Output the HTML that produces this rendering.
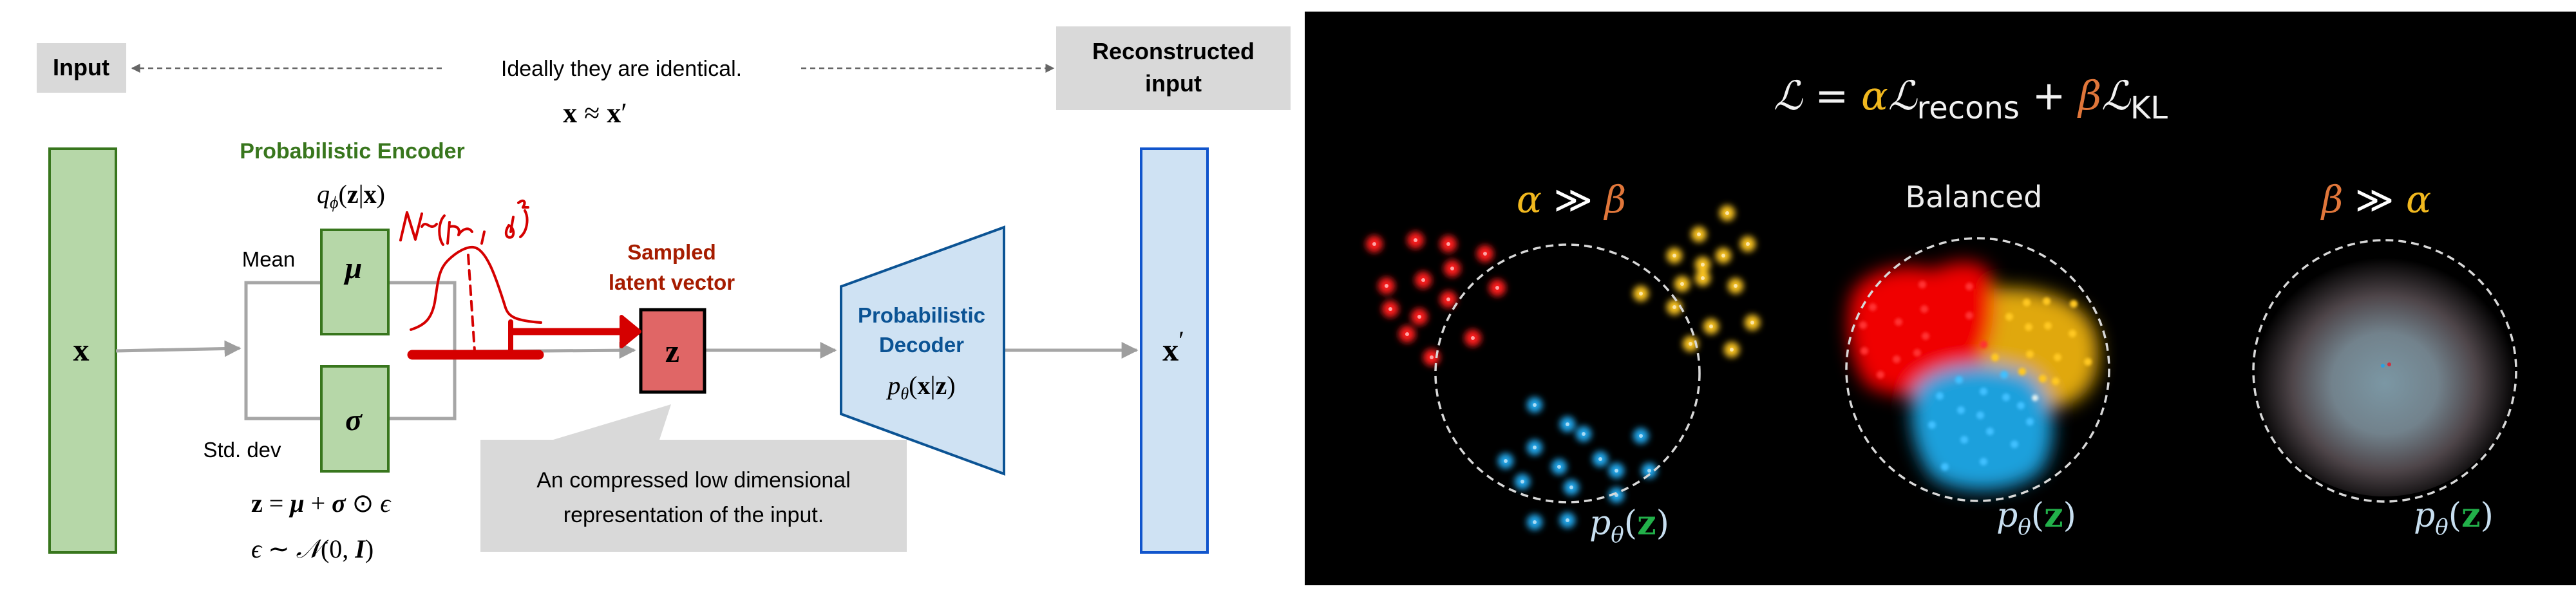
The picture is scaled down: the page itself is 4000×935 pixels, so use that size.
<!DOCTYPE html>
<html><head><meta charset="utf-8"><style>
html,body{margin:0;padding:0;background:#fff}
svg{display:block}
</style></head><body>
<svg width="4000" height="935" viewBox="0 0 4000 935" xmlns="http://www.w3.org/2000/svg">
<defs>
<marker id="gb" viewBox="0 0 10 10" markerWidth="26" markerHeight="26" refX="9" refY="5" orient="auto" markerUnits="userSpaceOnUse"><path d="M0,0 L10,5 L0,10z" fill="#9e9e9e"/></marker>
<marker id="da" viewBox="0 0 10 10" markerWidth="14" markerHeight="14" refX="9" refY="5" orient="auto" markerUnits="userSpaceOnUse"><path d="M0,0 L10,5 L0,10z" fill="#666"/></marker>
<filter id="gl" x="-50%" y="-50%" width="200%" height="200%"><feGaussianBlur stdDeviation="5"/></filter>
<filter id="bb" x="-50%" y="-50%" width="200%" height="200%"><feGaussianBlur stdDeviation="14"/></filter>
<filter id="sd" x="-50%" y="-50%" width="200%" height="200%"><feGaussianBlur stdDeviation="2"/></filter>
<radialGradient id="rg" cx="0.5" cy="0.55" r="0.5"><stop offset="0" stop-color="#7b97a4"/><stop offset="0.4" stop-color="#72828c"/><stop offset="0.7" stop-color="#4e4549"/><stop offset="1" stop-color="#000"/></radialGradient>
</defs>
<rect width="4000" height="935" fill="#fff"/>
<g font-family="Liberation Sans, sans-serif">
<rect x="57" y="67" width="139" height="77" fill="#d9d9d9"/>
<text x="126" y="117" font-size="36" font-weight="bold" text-anchor="middle" fill="#000">Input</text>
<line x1="686" y1="106" x2="205" y2="106" stroke="#666" stroke-width="2.5" stroke-dasharray="8,6" marker-end="url(#da)"/>
<text x="965" y="118" font-size="34" text-anchor="middle">Ideally they are identical.</text>
<line x1="1244" y1="106" x2="1636" y2="106" stroke="#666" stroke-width="2.5" stroke-dasharray="8,6" marker-end="url(#da)"/>
<rect x="1640" y="41" width="364" height="130" fill="#d9d9d9"/>
<text x="1822" y="92" font-size="36" font-weight="bold" text-anchor="middle">Reconstructed</text>
<text x="1822" y="142" font-size="36" font-weight="bold" text-anchor="middle">input</text>
<text x="924" y="190" font-size="44" font-family="Liberation Serif, serif" text-anchor="middle"><tspan font-weight="bold">x</tspan> ≈ <tspan font-weight="bold">x</tspan>′</text>

<rect x="77" y="231" width="103" height="627" fill="#b6d7a8" stroke="#38761d" stroke-width="4"/>
<text x="126" y="560" font-size="50" font-weight="bold" font-family="Liberation Serif, serif" text-anchor="middle">x</text>

<text x="547" y="246" font-size="34" font-weight="bold" fill="#38761d" text-anchor="middle">Probabilistic Encoder</text>
<text x="545" y="315" font-size="40" font-family="Liberation Serif, serif" text-anchor="middle"><tspan font-style="italic">q</tspan><tspan font-style="italic" font-size="26" dy="8">ϕ</tspan><tspan dy="-8">(<tspan font-weight="bold">z</tspan>|<tspan font-weight="bold">x</tspan>)</tspan></text>
<text x="417" y="414" font-size="33" text-anchor="middle">Mean</text>
<text x="376" y="710" font-size="33" text-anchor="middle">Std. dev</text>

<g stroke="#a6a6a6" stroke-width="5" fill="none">
<polyline points="498,439 382,439 382,650 498,650"/>
<polyline points="604,439 706,439 706,650 604,650"/>
<line x1="180" y1="545" x2="372" y2="541" marker-end="url(#gb)"/>
<line x1="706" y1="546" x2="985" y2="544" marker-end="url(#gb)"/>
<line x1="1095" y1="544" x2="1297" y2="544" marker-end="url(#gb)"/>
<line x1="1560" y1="544" x2="1765" y2="544" marker-end="url(#gb)"/>
</g>
<rect x="499" y="357" width="104" height="162" fill="#b6d7a8" stroke="#38761d" stroke-width="4"/>
<text x="549" y="432" font-size="48" font-weight="bold" font-style="italic" font-family="Liberation Serif, serif" text-anchor="middle">μ</text>
<rect x="499" y="569" width="104" height="163" fill="#b6d7a8" stroke="#38761d" stroke-width="4"/>
<text x="549" y="668" font-size="48" font-weight="bold" font-style="italic" font-family="Liberation Serif, serif" text-anchor="middle">σ</text>

<text x="390" y="795" font-size="40" font-family="Liberation Serif, serif"><tspan font-weight="bold">z</tspan> = <tspan font-weight="bold" font-style="italic">μ</tspan> + <tspan font-weight="bold" font-style="italic">σ</tspan> ⊙ <tspan font-style="italic">ϵ</tspan></text>
<text x="390" y="866" font-size="40" font-family="Liberation Serif, serif"><tspan font-style="italic">ϵ</tspan> ∼ <tspan font-style="italic">𝒩</tspan>(0, <tspan font-weight="bold" font-style="italic">I</tspan>)</text>

<text x="1043" y="403" font-size="33" font-weight="bold" fill="#a61c00" text-anchor="middle">Sampled</text>
<text x="1043" y="450" font-size="33" font-weight="bold" fill="#a61c00" text-anchor="middle">latent vector</text>

<rect x="995" y="481" width="99" height="128" fill="#e06666" stroke="#000" stroke-width="5"/>
<text x="1044" y="562" font-size="50" font-weight="bold" font-family="Liberation Serif, serif" text-anchor="middle">z</text>

<g stroke="#d50000" fill="none" stroke-linecap="round" stroke-linejoin="round">
<path d="M638,512 C660,505 670,495 675,470 C680,440 680,420 695,405 C710,390 725,383 735,384 C755,386 770,430 785,478 C790,492 800,498 840,501" stroke-width="4"/>
<path d="M727,396 L737,545" stroke-width="4" stroke-dasharray="14,10"/>
<line x1="640" y1="551" x2="837" y2="551" stroke-width="15"/>
<line x1="793" y1="500" x2="793" y2="548" stroke-width="8"/>
<line x1="797" y1="515" x2="970" y2="515" stroke-width="11"/>
<path d="M965,492 L993,515 L965,538 z" fill="#d50000" stroke-width="6"/>
<path d="M622,373 L632,330 L645,372 L655,332 M655,352 C662,340 668,360 678,348 M690,335 C680,345 680,370 688,380 M698,345 L695,378 M698,352 C710,350 715,355 712,365 C718,355 728,352 733,360 M752,360 L748,378 M790,350 C783,360 785,372 795,368 C800,362 796,352 790,350 M797,337 L793,360 M805,315 C812,309 818,312 812,322 L820,322 M815,327 C822,340 818,360 808,368" stroke-width="4"/>
</g>

<path d="M859,683 L1042,628 L1024,683 z" fill="#d9d9d9"/>
<rect x="746" y="683" width="662" height="174" fill="#d9d9d9"/>
<text x="1077" y="757" font-size="34" text-anchor="middle">An compressed low dimensional</text>
<text x="1077" y="811" font-size="34" text-anchor="middle">representation of the input.</text>

<path d="M1306,445 L1559,353 L1559,736 L1306,643 z" fill="#cfe2f3" stroke="#0b5394" stroke-width="4"/>
<text x="1431" y="501" font-size="33" font-weight="bold" fill="#0b5394" text-anchor="middle">Probabilistic</text>
<text x="1431" y="547" font-size="33" font-weight="bold" fill="#0b5394" text-anchor="middle">Decoder</text>
<text x="1431" y="612" font-size="40" font-family="Liberation Serif, serif" text-anchor="middle"><tspan font-style="italic">p</tspan><tspan font-style="italic" font-size="26" dy="8">θ</tspan><tspan dy="-8">(<tspan font-weight="bold">x</tspan>|<tspan font-weight="bold">z</tspan>)</tspan></text>

<rect x="1772" y="231" width="103" height="627" fill="#cfe2f3" stroke="#1155cc" stroke-width="4"/>
<text x="1822" y="560" font-size="50" font-weight="bold" font-family="Liberation Serif, serif" text-anchor="middle">x<tspan font-weight="normal" dy="-18" font-size="40">′</tspan></text>
</g>

<rect x="2026" y="18" width="1974" height="891" fill="#000"/>
<g font-family="DejaVu Sans, sans-serif">
<text x="3060" y="170" font-size="62" fill="#f2f2f2" text-anchor="middle"><tspan font-family="DejaVu Serif, serif" font-style="italic">ℒ</tspan> = <tspan fill="#f1b81e" font-style="italic" font-family="DejaVu Serif, serif">α</tspan><tspan font-style="italic" font-family="DejaVu Serif, serif">ℒ</tspan><tspan font-size="48" dy="14">recons</tspan><tspan dy="-14"> + </tspan><tspan fill="#e0763a" font-style="italic" font-family="DejaVu Serif, serif">β</tspan><tspan font-style="italic" font-family="DejaVu Serif, serif">ℒ</tspan><tspan font-size="48" dy="14">KL</tspan></text>
<text x="2440" y="330" font-size="58" text-anchor="middle" font-family="DejaVu Serif, serif" font-style="italic"><tspan fill="#f1b81e">α</tspan><tspan fill="#fff" font-style="normal"> ≫ </tspan><tspan fill="#e0763a">β</tspan></text>
<text x="3065" y="322" font-size="46" fill="#eee" text-anchor="middle">Balanced</text>
<text x="3690" y="330" font-size="58" text-anchor="middle" font-family="DejaVu Serif, serif" font-style="italic"><tspan fill="#e0763a">β</tspan><tspan fill="#fff" font-style="normal"> ≫ </tspan><tspan fill="#f1b81e">α</tspan></text>

<ellipse cx="3703" cy="576" rx="205" ry="195" fill="url(#rg)"/>
<circle cx="3700" cy="568" r="3" fill="#2aa0e0"/><circle cx="3710" cy="566" r="3" fill="#d03040"/>

<g filter="url(#bb)">
<path d="M3085,450 C3150,440 3255,460 3258,540 C3262,610 3220,640 3150,635 L3070,560z" fill="#e0a810"/>
<path d="M2875,460 C2890,420 2960,405 3000,420 C3040,400 3090,400 3095,440 C3100,500 3090,560 3040,600 C3000,620 2950,620 2900,600 C2870,560 2865,500 2875,460z" fill="#f00000"/>
<path d="M2975,600 C3010,560 3090,560 3150,580 C3190,610 3200,680 3170,730 C3130,770 3040,770 3000,740 C2970,700 2960,640 2975,600z" fill="#1fa0dc"/>
</g>
<g fill="#ff3030" filter="url(#sd)">
<circle cx="2985" cy="442" r="6"/><circle cx="3058" cy="445" r="6"/><circle cx="2908" cy="477" r="6"/><circle cx="2948" cy="500" r="6"/><circle cx="2988" cy="480" r="6"/><circle cx="3058" cy="490" r="6"/><circle cx="2990" cy="522" r="6"/><circle cx="2893" cy="505" r="6"/><circle cx="2895" cy="545" r="6"/><circle cx="2945" cy="558" r="6"/><circle cx="2977" cy="548" r="6"/><circle cx="2920" cy="582" r="6"/><circle cx="3080" cy="535" r="6"/>
</g>
<g fill="#ffc820" filter="url(#sd)">
<circle cx="3120" cy="492" r="6"/><circle cx="3147" cy="470" r="6"/><circle cx="3178" cy="468" r="6"/><circle cx="3220" cy="472" r="6"/><circle cx="3150" cy="508" r="6"/><circle cx="3180" cy="506" r="6"/><circle cx="3218" cy="518" r="6"/><circle cx="3152" cy="550" r="6"/><circle cx="3195" cy="555" r="6"/><circle cx="3242" cy="562" r="6"/><circle cx="3172" cy="588" r="6"/><circle cx="3192" cy="592" r="6"/><circle cx="3098" cy="555" r="6"/><circle cx="3140" cy="577" r="6"/>
</g>
<g fill="#40c0ff" filter="url(#sd)">
<circle cx="3042" cy="590" r="6"/><circle cx="3112" cy="582" r="6"/><circle cx="3012" cy="615" r="6"/><circle cx="3080" cy="608" r="6"/><circle cx="3115" cy="617" r="6"/><circle cx="3138" cy="630" r="6"/><circle cx="3045" cy="637" r="6"/><circle cx="3075" cy="645" r="6"/><circle cx="3000" cy="660" r="6"/><circle cx="3090" cy="670" r="6"/><circle cx="3152" cy="655" r="6"/><circle cx="3050" cy="683" r="6"/><circle cx="3128" cy="690" r="6"/><circle cx="3020" cy="725" r="6"/><circle cx="3080" cy="717" r="6"/><circle cx="3160" cy="618" r="5" fill="#e0f0f0"/>
</g>

<g>
<g fill="#ff1a1a" filter="url(#gl)">
<circle cx="2134" cy="379" r="13"/><circle cx="2198" cy="373" r="13"/><circle cx="2249" cy="379" r="13"/><circle cx="2306" cy="394" r="13"/><circle cx="2153" cy="444" r="13"/><circle cx="2210" cy="435" r="13"/><circle cx="2255" cy="417" r="13"/><circle cx="2325" cy="447" r="13"/><circle cx="2159" cy="480" r="13"/><circle cx="2204" cy="492" r="13"/><circle cx="2249" cy="465" r="13"/><circle cx="2185" cy="519" r="13"/><circle cx="2287" cy="525" r="13"/><circle cx="2223" cy="555" r="13"/>
</g>
<g fill="#ffc820" filter="url(#gl)">
<circle cx="2682" cy="331" r="12"/><circle cx="2638" cy="364" r="12"/><circle cx="2714" cy="379" r="12"/><circle cx="2600" cy="397" r="12"/><circle cx="2676" cy="397" r="12"/><circle cx="2644" cy="411" r="12"/><circle cx="2612" cy="441" r="12"/><circle cx="2644" cy="432" r="12"/><circle cx="2695" cy="444" r="12"/><circle cx="2548" cy="456" r="12"/><circle cx="2600" cy="477" r="12"/><circle cx="2657" cy="507" r="12"/><circle cx="2721" cy="501" r="12"/><circle cx="2625" cy="534" r="12"/><circle cx="2689" cy="543" r="12"/>
</g>
<g fill="#22aaf0" filter="url(#gl)">
<circle cx="2383" cy="629" r="12"/><circle cx="2434" cy="659" r="12"/><circle cx="2459" cy="674" r="12"/><circle cx="2548" cy="677" r="12"/><circle cx="2383" cy="695" r="12"/><circle cx="2338" cy="716" r="12"/><circle cx="2421" cy="725" r="12"/><circle cx="2485" cy="713" r="12"/><circle cx="2510" cy="731" r="12"/><circle cx="2561" cy="731" r="12"/><circle cx="2364" cy="748" r="12"/><circle cx="2440" cy="757" r="12"/><circle cx="2510" cy="769" r="12"/><circle cx="2383" cy="811" r="12"/><circle cx="2434" cy="808" r="12"/>
</g>
<g fill="#fff" opacity="0.6">
<circle cx="2134" cy="379" r="3"/><circle cx="2198" cy="373" r="3"/><circle cx="2249" cy="379" r="3"/><circle cx="2306" cy="394" r="3"/><circle cx="2153" cy="444" r="3"/><circle cx="2210" cy="435" r="3"/><circle cx="2255" cy="417" r="3"/><circle cx="2325" cy="447" r="3"/><circle cx="2159" cy="480" r="3"/><circle cx="2204" cy="492" r="3"/><circle cx="2249" cy="465" r="3"/><circle cx="2185" cy="519" r="3"/><circle cx="2287" cy="525" r="3"/><circle cx="2223" cy="555" r="3"/>
<circle cx="2682" cy="331" r="3"/><circle cx="2638" cy="364" r="3"/><circle cx="2714" cy="379" r="3"/><circle cx="2600" cy="397" r="3"/><circle cx="2676" cy="397" r="3"/><circle cx="2644" cy="411" r="3"/><circle cx="2612" cy="441" r="3"/><circle cx="2644" cy="432" r="3"/><circle cx="2695" cy="444" r="3"/><circle cx="2548" cy="456" r="3"/><circle cx="2600" cy="477" r="3"/><circle cx="2657" cy="507" r="3"/><circle cx="2721" cy="501" r="3"/><circle cx="2625" cy="534" r="3"/><circle cx="2689" cy="543" r="3"/>
<circle cx="2383" cy="629" r="3"/><circle cx="2434" cy="659" r="3"/><circle cx="2459" cy="674" r="3"/><circle cx="2548" cy="677" r="3"/><circle cx="2383" cy="695" r="3"/><circle cx="2338" cy="716" r="3"/><circle cx="2421" cy="725" r="3"/><circle cx="2485" cy="713" r="3"/><circle cx="2510" cy="731" r="3"/><circle cx="2561" cy="731" r="3"/><circle cx="2364" cy="748" r="3"/><circle cx="2440" cy="757" r="3"/><circle cx="2510" cy="769" r="3"/><circle cx="2383" cy="811" r="3"/><circle cx="2434" cy="808" r="3"/>
</g>
</g>

<g fill="none" stroke="#d8d8d8" stroke-width="3.5" stroke-dasharray="12,8">
<ellipse cx="2434" cy="580" rx="205" ry="200"/>
<ellipse cx="3071" cy="574" rx="204" ry="204"/>
<ellipse cx="3703" cy="576" rx="204" ry="203"/>
</g>

<g font-family="DejaVu Serif, serif" font-size="52">
<text x="2468" y="830" fill="#c8dff0"><tspan font-style="italic">p</tspan><tspan font-style="italic" font-size="34" dy="12">θ</tspan><tspan dy="-12">(</tspan><tspan fill="#22b04a" font-weight="bold">z</tspan>)</text>
<text x="3100" y="818" fill="#c8dff0"><tspan font-style="italic">p</tspan><tspan font-style="italic" font-size="34" dy="12">θ</tspan><tspan dy="-12">(</tspan><tspan fill="#22b04a" font-weight="bold">z</tspan>)</text>
<text x="3748" y="818" fill="#c8dff0"><tspan font-style="italic">p</tspan><tspan font-style="italic" font-size="34" dy="12">θ</tspan><tspan dy="-12">(</tspan><tspan fill="#22b04a" font-weight="bold">z</tspan>)</text>
</g>
</g>
</svg>
</body></html>
